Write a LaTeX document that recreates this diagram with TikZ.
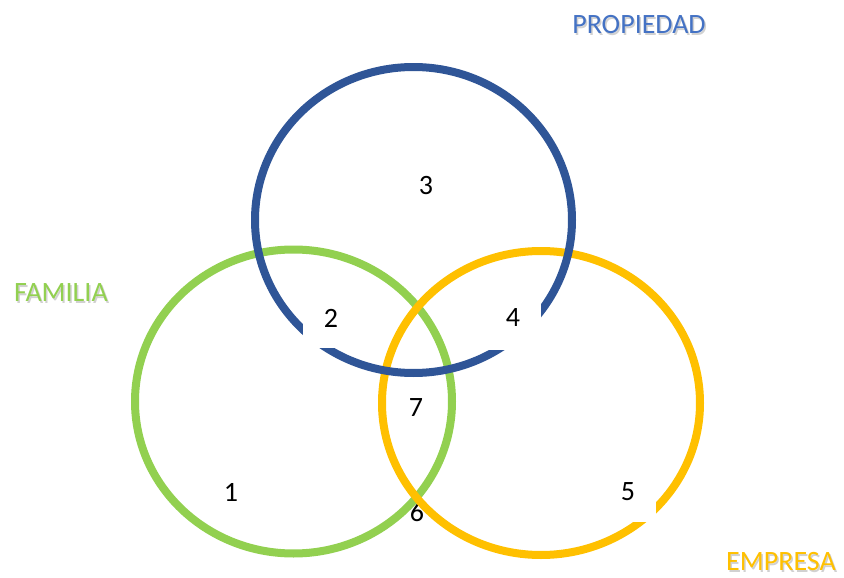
\documentclass[tikz,border=0pt]{standalone}
\usepackage{fontspec}
\setmainfont{Carlito}
\definecolor{propblue}{HTML}{2F5597}
\definecolor{propblueText}{HTML}{4472C4}
\definecolor{famgreen}{HTML}{92D050}
\definecolor{empyellow}{HTML}{FFC000}
\begin{document}
\begin{tikzpicture}[x=0.75pt,y=-0.75pt,
  ring/.style={line width=6pt},
  num/.style={font=\fontsize{21}{24}\selectfont, text=black, inner sep=0pt},
  title/.style={font=\fontsize{21}{24}\selectfont, inner sep=0pt},
  shade/.style={font=\fontsize{21}{24}\selectfont, inner sep=0pt, text=black!18},
  cover/.style={fill=white, draw=none}]
\useasboundingbox (0,0) rectangle (844,578);

% label sitting underneath the rings
\node[num] (n6) at (417,512) {6};

% the three sets
\draw[ring, draw=famgreen] (293.5,401.5) ellipse [x radius=158.5, y radius=152];
\draw[ring, draw=empyellow] (541,403) ellipse [x radius=159, y radius=152];
\draw[ring, draw=propblue] (413.5,220) ellipse [x radius=158.5, y radius=153];

% opaque text boxes laid over the rings
\fill[cover] (303,292) rectangle (358,348);
\fill[cover] (478,292) rectangle (541,350);
\fill[cover] (596,462) rectangle (656,522);

\node[num] (n1) at (231,492) {1};
\node[num] (n2) at (331,318) {2};
\node[num] (n3) at (426,186) {3};
\node[num] (n4) at (513,318) {4};
\node[num] (n5) at (628,492) {5};
\node[num] (n7) at (416,408) {7};

% set names with a soft drop shadow
\node[shade] at (640.5,26.5) {PROPIEDAD};
\node[title, text=propblueText] (tProp) at (639,25) {PROPIEDAD};
\node[shade] at (62.5,294.5) {FAMILIA};
\node[title, text=famgreen] (tFam) at (61,293) {FAMILIA};
\node[shade] at (782.5,563.5) {EMPRESA};
\node[title, text=empyellow] (tEmp) at (781,562) {EMPRESA};
\end{tikzpicture}
\end{document}
